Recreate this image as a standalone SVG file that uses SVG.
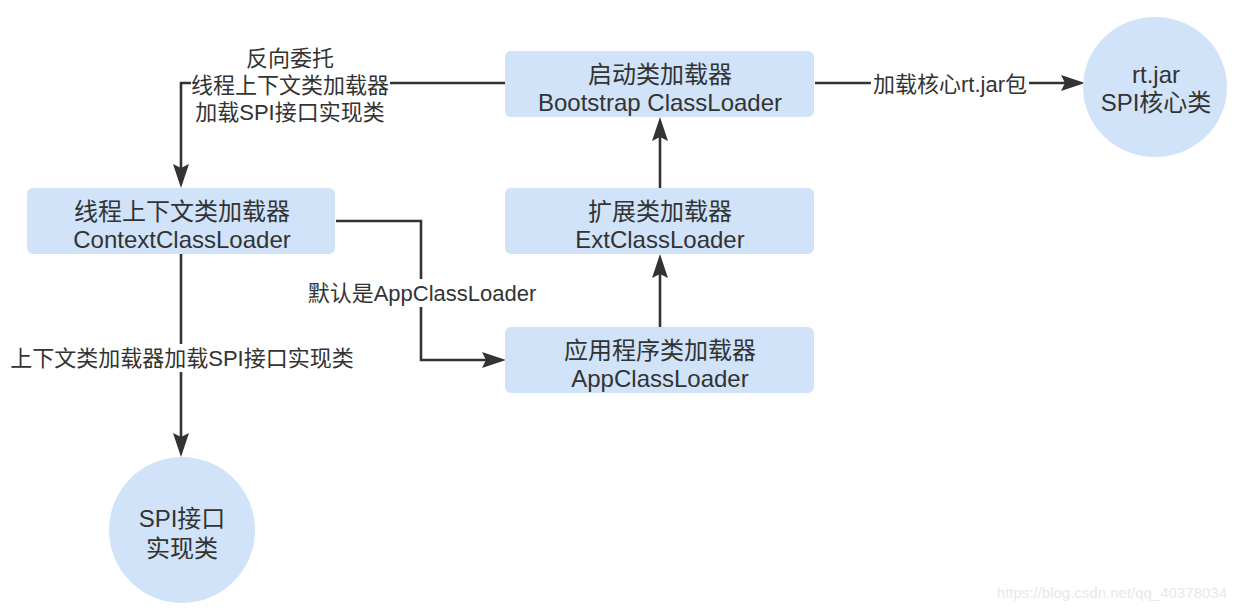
<svg xmlns="http://www.w3.org/2000/svg" width="1236" height="610" viewBox="0 0 1236 610">
<style>
.node{fill:#d0e3f9;stroke:none}
.nt{font-family:"Liberation Sans","Noto Sans CJK SC",sans-serif;font-size:24px;fill:#333;text-anchor:middle;dominant-baseline:central}
.et{font-family:"Liberation Sans","Noto Sans CJK SC",sans-serif;font-size:22px;fill:#333;text-anchor:middle;dominant-baseline:central}
.edge{fill:none;stroke:#333;stroke-width:2.6}
.bg{fill:#fff}
.wm{font-family:"Liberation Sans",Arial,sans-serif;font-size:15px;fill:#e8e8e8;text-anchor:end}
</style>
<defs>
<marker id="arr" markerUnits="userSpaceOnUse" viewBox="0 0 24 16" refX="16" refY="8" markerWidth="24" markerHeight="16" orient="auto">
<path d="M0,0 L24,8 L0,16 L4,8 Z" fill="#333"/>
</marker>
</defs>
<rect width="1236" height="610" fill="#fff"/>
<g id="connectors">
<path class="edge" d="M505,83 H181 V180" marker-end="url(#arr)"/>
<path class="edge" d="M815,83 H1077" marker-end="url(#arr)"/>
<path class="edge" d="M660,188 V125" marker-end="url(#arr)"/>
<path class="edge" d="M660,327 V262" marker-end="url(#arr)"/>
<path class="edge" d="M336,221 H421 V360 H498" marker-end="url(#arr)"/>
<path class="edge" d="M181,254 V449" marker-end="url(#arr)"/>
</g>
<g id="edge-labels">
<rect class="bg" x="191" y="44" width="199" height="82"/>
<text class="et" x="290" y="58">反向委托<tspan x="290" dy="27">线程上下文类加载器</tspan><tspan x="290" dy="27">加载SPI接口实现类</tspan></text>
<rect class="bg" x="871" y="70" width="158" height="28"/>
<text class="et" x="950" y="84">加载核心rt.jar包</text>
<rect class="bg" x="306" y="279" width="232" height="28"/>
<text class="et" x="422" y="293">默认是AppClassLoader</text>
<rect class="bg" x="10" y="344" width="344" height="28"/>
<text class="et" x="182" y="358">上下文类加载器加载SPI接口实现类</text>
</g>
<g id="bootstrap">
<rect class="node" x="505" y="51" width="309" height="66" rx="6"/>
<text class="nt" x="660" y="74">启动类加载器<tspan x="660" dy="28">Bootstrap ClassLoader</tspan></text>
</g>
<g id="ext">
<rect class="node" x="505" y="188" width="309" height="66" rx="6"/>
<text class="nt" x="660" y="211">扩展类加载器<tspan x="660" dy="28">ExtClassLoader</tspan></text>
</g>
<g id="app">
<rect class="node" x="505" y="327" width="309" height="66" rx="6"/>
<text class="nt" x="660" y="350">应用程序类加载器<tspan x="660" dy="28">AppClassLoader</tspan></text>
</g>
<g id="context">
<rect class="node" x="27" y="188" width="308" height="66" rx="6"/>
<text class="nt" x="182" y="211">线程上下文类加载器<tspan x="182" dy="28">ContextClassLoader</tspan></text>
</g>
<g id="rtjar">
<ellipse class="node" cx="1155" cy="87" rx="72" ry="70"/>
<text class="nt" x="1156" y="74">rt.jar<tspan x="1156" dy="28">SPI核心类</tspan></text>
</g>
<g id="spi">
<ellipse class="node" cx="182" cy="530" rx="73" ry="73"/>
<text class="nt" x="182" y="518">SPI接口<tspan x="182" dy="30">实现类</tspan></text>
</g>
<text class="wm" x="1227" y="598">https://blog.csdn.net/qq_40378034</text>
</svg>
